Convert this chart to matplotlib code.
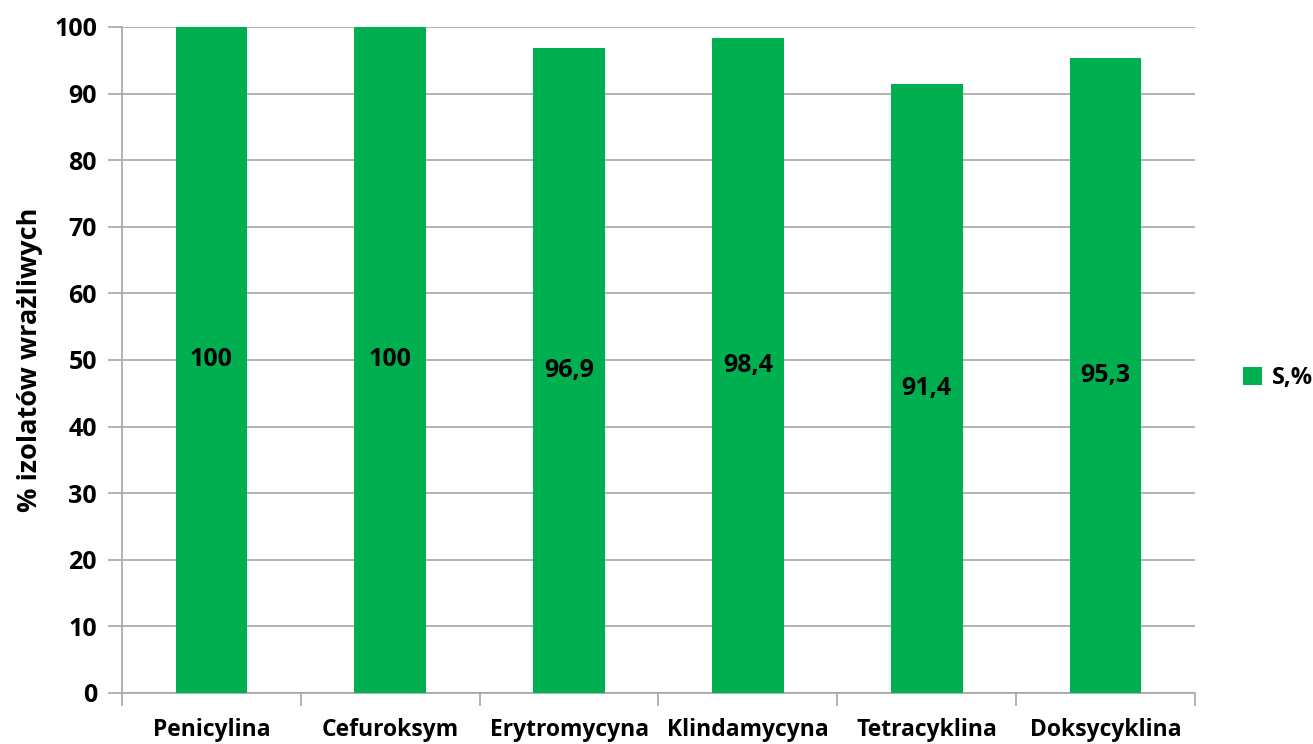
import numpy as np
import matplotlib
matplotlib.use('Agg')
import matplotlib.pyplot as plt

plt.rcParams['font.family'] = ['Open Sans', 'DejaVu Sans']
plt.rcParams['font.weight'] = 'bold'

# dane
antybiotyki = ['Penicylina', 'Cefuroksym', 'Erytromycyna', 'Klindamycyna', 'Tetracyklina', 'Doksycyklina']
wrazliwe = [100, 100, 96.9, 98.4, 91.4, 95.3]
etykiety = ['100', '100', '96,9', '98,4', '91,4', '95,3']
y_ticks = [0, 10, 20, 30, 40, 50, 60, 70, 80, 90, 100]

green = '#00B050'
grid_c = '#A6A6A6'

fig = plt.figure(figsize=(13.13, 7.44), dpi=100)
ax = fig.add_axes([122 / 1313, 1 - 693 / 744, (1195 - 122) / 1313, (693 - 27) / 744])

x = np.arange(len(antybiotyki))
bars = ax.bar(x, wrazliwe, width=0.4, color=green, label='S,%', zorder=3)

for b, lab in zip(bars, etykiety):
    ax.text(b.get_x() + b.get_width() / 2, b.get_height() / 2, lab,
            ha='center', va='center', fontsize=18, fontweight='bold', zorder=4)

ax.set_xlim(-0.5, len(antybiotyki) - 0.5)
ax.set_ylim(0, 100)
ax.set_yticks(y_ticks)
ax.set_yticklabels([str(t) for t in y_ticks], fontsize=18, fontweight='bold')
ax.yaxis.grid(True, color=grid_c, linewidth=1.2, zorder=0)
ax.tick_params(axis='y', length=10, width=1.2, color=grid_c, pad=8)

# ticks between categories
ax.set_xticks(np.arange(-0.5, len(antybiotyki), 1.0))
ax.set_xticklabels([])
ax.set_xticks(x, minor=True)
ax.set_xticklabels(antybiotyki, minor=True, fontsize=16.5, fontweight='bold')
ax.tick_params(axis='x', which='major', length=9, width=1.2, color=grid_c)
ax.tick_params(axis='x', which='minor', length=0, pad=18)

for s in ['top', 'right']:
    ax.spines[s].set_visible(False)
for s in ['left', 'bottom']:
    ax.spines[s].set_color(grid_c)
    ax.spines[s].set_linewidth(1.2)

ax.set_ylabel('% izolatów wrażliwych', fontsize=19.5, fontweight='bold', labelpad=8)

fig.legend(handles=[bars], labels=['S,%'], loc='center left',
           bbox_to_anchor=(1234 / 1313, 1 - 378 / 744), frameon=False,
           prop={'size': 17, 'weight': 'bold'}, handlelength=0.8, handleheight=0.8,
           handletextpad=0.4, borderaxespad=0)

fig.savefig('out.png', dpi=100)
